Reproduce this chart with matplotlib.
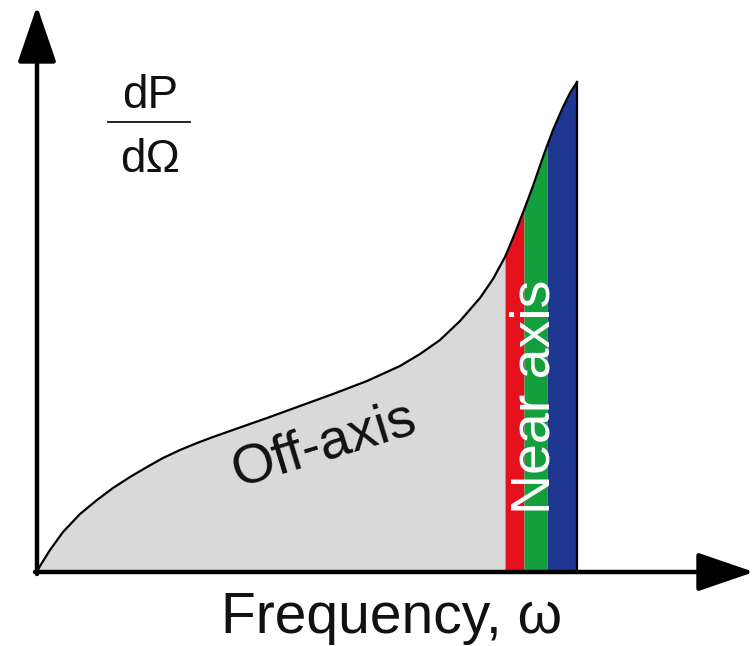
import matplotlib
matplotlib.use("Agg")
import matplotlib.pyplot as plt
import numpy as np

# Curve (frequency, dP/dOmega) in arbitrary units
freq = [0, 3, 13, 26, 43, 60, 76, 93, 110, 126, 143, 160, 176, 193, 230, 263,
        296, 330, 363, 383, 403, 423, 443, 456, 468, 476, 487, 496, 506, 510,
        516, 526, 533, 540]
power = [0, 6, 22, 40, 58, 72, 84, 95, 105, 114, 122, 129, 135, 141, 154, 166,
         178, 191, 206, 218, 232, 251, 274, 293, 315, 334, 362, 386, 415, 426,
         442, 465, 479, 490]

# Band edges along the frequency axis
off_axis_end = 468
band_edges = [468, 487, 510, 540]
band_colors = ["#e5121e", "#13a03c", "#1e3791"]

plt.rcParams['font.family'] = ['Liberation Sans', 'DejaVu Sans']

fig = plt.figure(figsize=(7.55, 6.46), dpi=100)
ax = fig.add_axes([0, 0, 1, 1])
ax.set_xlim(-37, 718)
ax.set_ylim(-74, 572)
ax.axis('off')

x = np.array(freq, dtype=float)
y = np.array(power, dtype=float)

# off-axis grey region
ax.fill_between(x, 0, y, where=x <= off_axis_end, color="#d9d9d9", lw=0, zorder=1)
# near-axis coloured bands
for (a, b), c in zip(zip(band_edges[:-1], band_edges[1:]), band_colors):
    ax.fill_between(x, 0, y, where=(x >= a) & (x <= b), color=c, lw=0, zorder=2)

# curve and right edge
ax.plot(x, y, color="black", lw=1.6, zorder=4, solid_joinstyle='round')
ax.plot([x[-1], x[-1]], [0, y[-1]], color="black", lw=1.6, zorder=4)

# axes arrows
arrow = dict(arrowstyle='-|>,head_length=1.75,head_width=0.6', lw=3.2,
             color='black', shrinkA=0, shrinkB=0, mutation_scale=20)
ax.annotate('', xy=(717, 0), xytext=(-2, 0), arrowprops=arrow, zorder=5)
ax.annotate('', xy=(0, 566), xytext=(0, -2), arrowprops=arrow, zorder=5)

# labels
ax.text(287, 127, "Off-axis", fontsize=40, rotation=17, ha='center', va='center',
        color='#111111', zorder=6, rotation_mode='anchor')
ax.text(499, 175, "Near axis", fontsize=40, rotation=90, ha='center', va='center',
        color='white', zorder=6)
ax.text(355, -61, "Frequency, ω", fontsize=41, ha='center', va='baseline', color='#111111')

ax.text(113, 464, "dP", fontsize=33, ha='center', va='baseline', color='#111111')
ax.plot([71, 153], [450, 450], color='#111111', lw=1.3)
ax.text(113, 400, "dΩ", fontsize=33, ha='center', va='baseline', color='#111111')

fig.savefig("out.png", dpi=100, facecolor='white')
